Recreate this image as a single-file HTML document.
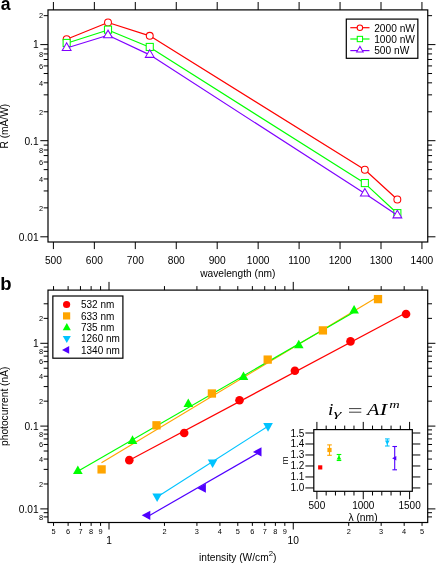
<!DOCTYPE html>
<html><head><meta charset="utf-8"><title>figure</title>
<style>
html,body{margin:0;padding:0;background:#fff;}
svg{display:block;will-change:transform;font-family:"Liberation Sans",sans-serif;}
</style></head><body>
<svg width="436" height="563" viewBox="0 0 436 563">
<rect width="436" height="563" fill="#fff"/>
<rect x="48.0" y="9.9" width="379.75" height="232.1" fill="none" stroke="#000" stroke-width="1.2"/>
<line x1="53.40" y1="9.90" x2="53.40" y2="2.00" stroke="#000" stroke-width="1.0" />
<line x1="53.40" y1="242.00" x2="53.40" y2="249.10" stroke="#000" stroke-width="1.0" />
<text x="53.40" y="264.10" font-size="10.2" text-anchor="middle" >500</text>
<line x1="94.35" y1="9.90" x2="94.35" y2="2.00" stroke="#000" stroke-width="1.0" />
<line x1="94.35" y1="242.00" x2="94.35" y2="249.10" stroke="#000" stroke-width="1.0" />
<text x="94.35" y="264.10" font-size="10.2" text-anchor="middle" >600</text>
<line x1="135.30" y1="9.90" x2="135.30" y2="2.00" stroke="#000" stroke-width="1.0" />
<line x1="135.30" y1="242.00" x2="135.30" y2="249.10" stroke="#000" stroke-width="1.0" />
<text x="135.30" y="264.10" font-size="10.2" text-anchor="middle" >700</text>
<line x1="176.25" y1="9.90" x2="176.25" y2="2.00" stroke="#000" stroke-width="1.0" />
<line x1="176.25" y1="242.00" x2="176.25" y2="249.10" stroke="#000" stroke-width="1.0" />
<text x="176.25" y="264.10" font-size="10.2" text-anchor="middle" >800</text>
<line x1="217.20" y1="9.90" x2="217.20" y2="2.00" stroke="#000" stroke-width="1.0" />
<line x1="217.20" y1="242.00" x2="217.20" y2="249.10" stroke="#000" stroke-width="1.0" />
<text x="217.20" y="264.10" font-size="10.2" text-anchor="middle" >900</text>
<line x1="258.15" y1="9.90" x2="258.15" y2="2.00" stroke="#000" stroke-width="1.0" />
<line x1="258.15" y1="242.00" x2="258.15" y2="249.10" stroke="#000" stroke-width="1.0" />
<text x="258.15" y="264.10" font-size="10.2" text-anchor="middle" >1000</text>
<line x1="299.10" y1="9.90" x2="299.10" y2="2.00" stroke="#000" stroke-width="1.0" />
<line x1="299.10" y1="242.00" x2="299.10" y2="249.10" stroke="#000" stroke-width="1.0" />
<text x="299.10" y="264.10" font-size="10.2" text-anchor="middle" >1100</text>
<line x1="340.05" y1="9.90" x2="340.05" y2="2.00" stroke="#000" stroke-width="1.0" />
<line x1="340.05" y1="242.00" x2="340.05" y2="249.10" stroke="#000" stroke-width="1.0" />
<text x="340.05" y="264.10" font-size="10.2" text-anchor="middle" >1200</text>
<line x1="381.00" y1="9.90" x2="381.00" y2="2.00" stroke="#000" stroke-width="1.0" />
<line x1="381.00" y1="242.00" x2="381.00" y2="249.10" stroke="#000" stroke-width="1.0" />
<text x="381.00" y="264.10" font-size="10.2" text-anchor="middle" >1300</text>
<line x1="421.95" y1="9.90" x2="421.95" y2="2.00" stroke="#000" stroke-width="1.0" />
<line x1="421.95" y1="242.00" x2="421.95" y2="249.10" stroke="#000" stroke-width="1.0" />
<text x="421.95" y="264.10" font-size="10.2" text-anchor="middle" >1400</text>
<line x1="48.00" y1="44.60" x2="40.30" y2="44.60" stroke="#000" stroke-width="1.0" />
<line x1="427.75" y1="44.60" x2="435.45" y2="44.60" stroke="#000" stroke-width="1.0" />
<text x="38.60" y="48.40" font-size="10.2" text-anchor="end" >1</text>
<line x1="48.00" y1="15.67" x2="43.70" y2="15.67" stroke="#000" stroke-width="1.0" />
<line x1="427.75" y1="15.67" x2="432.05" y2="15.67" stroke="#000" stroke-width="1.0" />
<text x="43.20" y="18.47" font-size="7.4" text-anchor="end" >2</text>
<line x1="48.00" y1="140.70" x2="40.30" y2="140.70" stroke="#000" stroke-width="1.0" />
<line x1="427.75" y1="140.70" x2="435.45" y2="140.70" stroke="#000" stroke-width="1.0" />
<text x="38.60" y="144.50" font-size="10.2" text-anchor="end" >0.1</text>
<line x1="48.00" y1="111.77" x2="43.70" y2="111.77" stroke="#000" stroke-width="1.0" />
<line x1="427.75" y1="111.77" x2="432.05" y2="111.77" stroke="#000" stroke-width="1.0" />
<text x="43.20" y="114.57" font-size="7.4" text-anchor="end" >2</text>
<line x1="48.00" y1="94.85" x2="43.70" y2="94.85" stroke="#000" stroke-width="1.0" />
<line x1="427.75" y1="94.85" x2="432.05" y2="94.85" stroke="#000" stroke-width="1.0" />
<line x1="48.00" y1="82.84" x2="43.70" y2="82.84" stroke="#000" stroke-width="1.0" />
<line x1="427.75" y1="82.84" x2="432.05" y2="82.84" stroke="#000" stroke-width="1.0" />
<text x="43.20" y="85.64" font-size="7.4" text-anchor="end" >4</text>
<line x1="48.00" y1="73.53" x2="43.70" y2="73.53" stroke="#000" stroke-width="1.0" />
<line x1="427.75" y1="73.53" x2="432.05" y2="73.53" stroke="#000" stroke-width="1.0" />
<line x1="48.00" y1="65.92" x2="43.70" y2="65.92" stroke="#000" stroke-width="1.0" />
<line x1="427.75" y1="65.92" x2="432.05" y2="65.92" stroke="#000" stroke-width="1.0" />
<text x="43.20" y="68.72" font-size="7.4" text-anchor="end" >6</text>
<line x1="48.00" y1="59.49" x2="43.70" y2="59.49" stroke="#000" stroke-width="1.0" />
<line x1="427.75" y1="59.49" x2="432.05" y2="59.49" stroke="#000" stroke-width="1.0" />
<line x1="48.00" y1="53.91" x2="43.70" y2="53.91" stroke="#000" stroke-width="1.0" />
<line x1="427.75" y1="53.91" x2="432.05" y2="53.91" stroke="#000" stroke-width="1.0" />
<text x="43.20" y="56.71" font-size="7.4" text-anchor="end" >8</text>
<line x1="48.00" y1="49.00" x2="43.70" y2="49.00" stroke="#000" stroke-width="1.0" />
<line x1="427.75" y1="49.00" x2="432.05" y2="49.00" stroke="#000" stroke-width="1.0" />
<line x1="48.00" y1="236.80" x2="40.30" y2="236.80" stroke="#000" stroke-width="1.0" />
<line x1="427.75" y1="236.80" x2="435.45" y2="236.80" stroke="#000" stroke-width="1.0" />
<text x="38.60" y="240.60" font-size="10.2" text-anchor="end" >0.01</text>
<line x1="48.00" y1="207.87" x2="43.70" y2="207.87" stroke="#000" stroke-width="1.0" />
<line x1="427.75" y1="207.87" x2="432.05" y2="207.87" stroke="#000" stroke-width="1.0" />
<text x="43.20" y="210.67" font-size="7.4" text-anchor="end" >2</text>
<line x1="48.00" y1="190.95" x2="43.70" y2="190.95" stroke="#000" stroke-width="1.0" />
<line x1="427.75" y1="190.95" x2="432.05" y2="190.95" stroke="#000" stroke-width="1.0" />
<line x1="48.00" y1="178.94" x2="43.70" y2="178.94" stroke="#000" stroke-width="1.0" />
<line x1="427.75" y1="178.94" x2="432.05" y2="178.94" stroke="#000" stroke-width="1.0" />
<text x="43.20" y="181.74" font-size="7.4" text-anchor="end" >4</text>
<line x1="48.00" y1="169.63" x2="43.70" y2="169.63" stroke="#000" stroke-width="1.0" />
<line x1="427.75" y1="169.63" x2="432.05" y2="169.63" stroke="#000" stroke-width="1.0" />
<line x1="48.00" y1="162.02" x2="43.70" y2="162.02" stroke="#000" stroke-width="1.0" />
<line x1="427.75" y1="162.02" x2="432.05" y2="162.02" stroke="#000" stroke-width="1.0" />
<text x="43.20" y="164.82" font-size="7.4" text-anchor="end" >6</text>
<line x1="48.00" y1="155.59" x2="43.70" y2="155.59" stroke="#000" stroke-width="1.0" />
<line x1="427.75" y1="155.59" x2="432.05" y2="155.59" stroke="#000" stroke-width="1.0" />
<line x1="48.00" y1="150.01" x2="43.70" y2="150.01" stroke="#000" stroke-width="1.0" />
<line x1="427.75" y1="150.01" x2="432.05" y2="150.01" stroke="#000" stroke-width="1.0" />
<text x="43.20" y="152.81" font-size="7.4" text-anchor="end" >8</text>
<line x1="48.00" y1="145.10" x2="43.70" y2="145.10" stroke="#000" stroke-width="1.0" />
<line x1="427.75" y1="145.10" x2="432.05" y2="145.10" stroke="#000" stroke-width="1.0" />
<text x="0.00" y="0.00" font-size="10.2" text-anchor="middle" transform="translate(7.8,126.2) rotate(-90)">R (mA/W)</text>
<text x="237.80" y="276.60" font-size="10.2" text-anchor="middle" >wavelength (nm)</text>
<polyline points="66.65,39.25 108.00,22.45 149.75,35.85 364.85,169.75 397.35,199.45" fill="none" stroke="#ff0000" stroke-width="1.18" stroke-linejoin="round"/>
<circle cx="66.65" cy="39.25" r="3.45" fill="#fff" stroke="#ff0000" stroke-width="1.05"/>
<circle cx="108.00" cy="22.45" r="3.45" fill="#fff" stroke="#ff0000" stroke-width="1.05"/>
<circle cx="149.75" cy="35.85" r="3.45" fill="#fff" stroke="#ff0000" stroke-width="1.05"/>
<circle cx="364.85" cy="169.75" r="3.45" fill="#fff" stroke="#ff0000" stroke-width="1.05"/>
<circle cx="397.35" cy="199.45" r="3.45" fill="#fff" stroke="#ff0000" stroke-width="1.05"/>
<polyline points="66.65,43.25 108.00,29.95 149.75,47.25 364.85,183.35 397.35,213.45" fill="none" stroke="#00ff00" stroke-width="1.18" stroke-linejoin="round"/>
<rect x="63.10" y="39.40" width="7.1" height="7.1" fill="#fff" stroke="#00ff00" stroke-width="1.05"/>
<rect x="104.45" y="26.10" width="7.1" height="7.1" fill="#fff" stroke="#00ff00" stroke-width="1.05"/>
<rect x="146.20" y="43.40" width="7.1" height="7.1" fill="#fff" stroke="#00ff00" stroke-width="1.05"/>
<rect x="361.30" y="179.50" width="7.1" height="7.1" fill="#fff" stroke="#00ff00" stroke-width="1.05"/>
<rect x="393.80" y="209.60" width="7.1" height="7.1" fill="#fff" stroke="#00ff00" stroke-width="1.05"/>
<polyline points="66.65,47.95 108.00,35.25 149.75,54.85 364.85,193.55 397.35,215.35" fill="none" stroke="#8000ff" stroke-width="1.18" stroke-linejoin="round"/>
<polygon points="66.65,42.85 62.25,50.45 71.05,50.45" fill="#fff" stroke="#8000ff" stroke-width="1.05" stroke-linejoin="miter"/>
<polygon points="108.00,30.15 103.60,37.75 112.40,37.75" fill="#fff" stroke="#8000ff" stroke-width="1.05" stroke-linejoin="miter"/>
<polygon points="149.75,49.75 145.35,57.35 154.15,57.35" fill="#fff" stroke="#8000ff" stroke-width="1.05" stroke-linejoin="miter"/>
<polygon points="364.85,188.45 360.45,196.05 369.25,196.05" fill="#fff" stroke="#8000ff" stroke-width="1.05" stroke-linejoin="miter"/>
<polygon points="397.35,210.25 392.95,217.85 401.75,217.85" fill="#fff" stroke="#8000ff" stroke-width="1.05" stroke-linejoin="miter"/>
<rect x="346.3" y="19.1" width="71.55000000000001" height="39.199999999999996" fill="#fff" stroke="#000" stroke-width="1.2"/>
<line x1="350.30" y1="27.70" x2="369.50" y2="27.70" stroke="#ff0000" stroke-width="1.18" />
<circle cx="359.90" cy="27.70" r="2.75" fill="#fff" stroke="#ff0000" stroke-width="1.05"/>
<line x1="350.30" y1="39.00" x2="369.50" y2="39.00" stroke="#00ff00" stroke-width="1.18" />
<rect x="357.25" y="36.35" width="5.3" height="5.3" fill="#fff" stroke="#00ff00" stroke-width="1.05"/>
<line x1="350.30" y1="50.60" x2="369.50" y2="50.60" stroke="#8000ff" stroke-width="1.18" />
<polygon points="359.90,46.40 356.60,52.05 363.20,52.05" fill="#fff" stroke="#8000ff" stroke-width="1.05" stroke-linejoin="miter"/>
<text x="374.20" y="31.60" font-size="10.2" text-anchor="start" >2000 nW</text>
<text x="374.20" y="42.90" font-size="10.2" text-anchor="start" >1000 nW</text>
<text x="374.20" y="54.20" font-size="10.2" text-anchor="start" >500 nW</text>
<text x="0.8" y="9.8" font-size="17.6" font-weight="bold">a</text>
<text x="0" y="0" font-size="17.6" font-weight="bold" transform="translate(0.3,289.6) scale(1.05,1)">b</text>
<rect x="48.0" y="290.1" width="379.7" height="232.39999999999998" fill="none" stroke="#000" stroke-width="1.2"/>
<line x1="48.00" y1="343.30" x2="40.30" y2="343.30" stroke="#000" stroke-width="1.0" />
<line x1="427.70" y1="343.30" x2="435.40" y2="343.30" stroke="#000" stroke-width="1.0" />
<text x="38.60" y="346.95" font-size="10.2" text-anchor="end" >1</text>
<line x1="48.00" y1="318.37" x2="43.70" y2="318.37" stroke="#000" stroke-width="1.0" />
<line x1="427.70" y1="318.37" x2="432.00" y2="318.37" stroke="#000" stroke-width="1.0" />
<text x="43.20" y="320.97" font-size="7.4" text-anchor="end" >2</text>
<line x1="48.00" y1="303.79" x2="43.70" y2="303.79" stroke="#000" stroke-width="1.0" />
<line x1="427.70" y1="303.79" x2="432.00" y2="303.79" stroke="#000" stroke-width="1.0" />
<line x1="48.00" y1="426.10" x2="40.30" y2="426.10" stroke="#000" stroke-width="1.0" />
<line x1="427.70" y1="426.10" x2="435.40" y2="426.10" stroke="#000" stroke-width="1.0" />
<text x="38.60" y="429.75" font-size="10.2" text-anchor="end" >0.1</text>
<line x1="48.00" y1="401.17" x2="43.70" y2="401.17" stroke="#000" stroke-width="1.0" />
<line x1="427.70" y1="401.17" x2="432.00" y2="401.17" stroke="#000" stroke-width="1.0" />
<text x="43.20" y="403.77" font-size="7.4" text-anchor="end" >2</text>
<line x1="48.00" y1="386.59" x2="43.70" y2="386.59" stroke="#000" stroke-width="1.0" />
<line x1="427.70" y1="386.59" x2="432.00" y2="386.59" stroke="#000" stroke-width="1.0" />
<line x1="48.00" y1="376.25" x2="43.70" y2="376.25" stroke="#000" stroke-width="1.0" />
<line x1="427.70" y1="376.25" x2="432.00" y2="376.25" stroke="#000" stroke-width="1.0" />
<text x="43.20" y="378.85" font-size="7.4" text-anchor="end" >4</text>
<line x1="48.00" y1="368.23" x2="43.70" y2="368.23" stroke="#000" stroke-width="1.0" />
<line x1="427.70" y1="368.23" x2="432.00" y2="368.23" stroke="#000" stroke-width="1.0" />
<line x1="48.00" y1="361.67" x2="43.70" y2="361.67" stroke="#000" stroke-width="1.0" />
<line x1="427.70" y1="361.67" x2="432.00" y2="361.67" stroke="#000" stroke-width="1.0" />
<text x="43.20" y="364.27" font-size="7.4" text-anchor="end" >6</text>
<line x1="48.00" y1="356.13" x2="43.70" y2="356.13" stroke="#000" stroke-width="1.0" />
<line x1="427.70" y1="356.13" x2="432.00" y2="356.13" stroke="#000" stroke-width="1.0" />
<line x1="48.00" y1="351.32" x2="43.70" y2="351.32" stroke="#000" stroke-width="1.0" />
<line x1="427.70" y1="351.32" x2="432.00" y2="351.32" stroke="#000" stroke-width="1.0" />
<text x="43.20" y="353.92" font-size="7.4" text-anchor="end" >8</text>
<line x1="48.00" y1="347.09" x2="43.70" y2="347.09" stroke="#000" stroke-width="1.0" />
<line x1="427.70" y1="347.09" x2="432.00" y2="347.09" stroke="#000" stroke-width="1.0" />
<line x1="48.00" y1="508.90" x2="40.30" y2="508.90" stroke="#000" stroke-width="1.0" />
<line x1="427.70" y1="508.90" x2="435.40" y2="508.90" stroke="#000" stroke-width="1.0" />
<text x="38.60" y="512.55" font-size="10.2" text-anchor="end" >0.01</text>
<line x1="48.00" y1="483.97" x2="43.70" y2="483.97" stroke="#000" stroke-width="1.0" />
<line x1="427.70" y1="483.97" x2="432.00" y2="483.97" stroke="#000" stroke-width="1.0" />
<text x="43.20" y="486.57" font-size="7.4" text-anchor="end" >2</text>
<line x1="48.00" y1="469.39" x2="43.70" y2="469.39" stroke="#000" stroke-width="1.0" />
<line x1="427.70" y1="469.39" x2="432.00" y2="469.39" stroke="#000" stroke-width="1.0" />
<line x1="48.00" y1="459.05" x2="43.70" y2="459.05" stroke="#000" stroke-width="1.0" />
<line x1="427.70" y1="459.05" x2="432.00" y2="459.05" stroke="#000" stroke-width="1.0" />
<text x="43.20" y="461.65" font-size="7.4" text-anchor="end" >4</text>
<line x1="48.00" y1="451.03" x2="43.70" y2="451.03" stroke="#000" stroke-width="1.0" />
<line x1="427.70" y1="451.03" x2="432.00" y2="451.03" stroke="#000" stroke-width="1.0" />
<line x1="48.00" y1="444.47" x2="43.70" y2="444.47" stroke="#000" stroke-width="1.0" />
<line x1="427.70" y1="444.47" x2="432.00" y2="444.47" stroke="#000" stroke-width="1.0" />
<text x="43.20" y="447.07" font-size="7.4" text-anchor="end" >6</text>
<line x1="48.00" y1="438.93" x2="43.70" y2="438.93" stroke="#000" stroke-width="1.0" />
<line x1="427.70" y1="438.93" x2="432.00" y2="438.93" stroke="#000" stroke-width="1.0" />
<line x1="48.00" y1="434.12" x2="43.70" y2="434.12" stroke="#000" stroke-width="1.0" />
<line x1="427.70" y1="434.12" x2="432.00" y2="434.12" stroke="#000" stroke-width="1.0" />
<text x="43.20" y="436.72" font-size="7.4" text-anchor="end" >8</text>
<line x1="48.00" y1="429.89" x2="43.70" y2="429.89" stroke="#000" stroke-width="1.0" />
<line x1="427.70" y1="429.89" x2="432.00" y2="429.89" stroke="#000" stroke-width="1.0" />
<line x1="48.00" y1="516.92" x2="43.70" y2="516.92" stroke="#000" stroke-width="1.0" />
<line x1="427.70" y1="516.92" x2="432.00" y2="516.92" stroke="#000" stroke-width="1.0" />
<text x="43.20" y="519.52" font-size="7.4" text-anchor="end" >8</text>
<line x1="48.00" y1="512.69" x2="43.70" y2="512.69" stroke="#000" stroke-width="1.0" />
<line x1="427.70" y1="512.69" x2="432.00" y2="512.69" stroke="#000" stroke-width="1.0" />
<line x1="53.54" y1="290.10" x2="53.54" y2="286.10" stroke="#000" stroke-width="1.0" />
<line x1="53.54" y1="522.50" x2="53.54" y2="525.90" stroke="#000" stroke-width="1.0" />
<text x="53.54" y="534.40" font-size="7.4" text-anchor="middle" >5</text>
<line x1="68.12" y1="290.10" x2="68.12" y2="286.10" stroke="#000" stroke-width="1.0" />
<line x1="68.12" y1="522.50" x2="68.12" y2="525.90" stroke="#000" stroke-width="1.0" />
<text x="68.12" y="534.40" font-size="7.4" text-anchor="middle" >6</text>
<line x1="80.46" y1="290.10" x2="80.46" y2="286.10" stroke="#000" stroke-width="1.0" />
<line x1="80.46" y1="522.50" x2="80.46" y2="525.90" stroke="#000" stroke-width="1.0" />
<text x="80.46" y="534.40" font-size="7.4" text-anchor="middle" >7</text>
<line x1="91.14" y1="290.10" x2="91.14" y2="286.10" stroke="#000" stroke-width="1.0" />
<line x1="91.14" y1="522.50" x2="91.14" y2="525.90" stroke="#000" stroke-width="1.0" />
<text x="91.14" y="534.40" font-size="7.4" text-anchor="middle" >8</text>
<line x1="100.57" y1="290.10" x2="100.57" y2="286.10" stroke="#000" stroke-width="1.0" />
<line x1="100.57" y1="522.50" x2="100.57" y2="525.90" stroke="#000" stroke-width="1.0" />
<text x="100.57" y="534.40" font-size="7.4" text-anchor="middle" >9</text>
<line x1="109.00" y1="290.10" x2="109.00" y2="281.90" stroke="#000" stroke-width="1.0" />
<line x1="109.00" y1="522.50" x2="109.00" y2="529.50" stroke="#000" stroke-width="1.0" />
<text x="109.00" y="543.90" font-size="10.2" text-anchor="middle" >1</text>
<line x1="164.46" y1="290.10" x2="164.46" y2="286.10" stroke="#000" stroke-width="1.0" />
<line x1="164.46" y1="522.50" x2="164.46" y2="525.90" stroke="#000" stroke-width="1.0" />
<text x="164.46" y="534.40" font-size="7.4" text-anchor="middle" >2</text>
<line x1="196.91" y1="290.10" x2="196.91" y2="286.10" stroke="#000" stroke-width="1.0" />
<line x1="196.91" y1="522.50" x2="196.91" y2="525.90" stroke="#000" stroke-width="1.0" />
<text x="196.91" y="534.40" font-size="7.4" text-anchor="middle" >3</text>
<line x1="219.93" y1="290.10" x2="219.93" y2="286.10" stroke="#000" stroke-width="1.0" />
<line x1="219.93" y1="522.50" x2="219.93" y2="525.90" stroke="#000" stroke-width="1.0" />
<text x="219.93" y="534.40" font-size="7.4" text-anchor="middle" >4</text>
<line x1="237.79" y1="290.10" x2="237.79" y2="286.10" stroke="#000" stroke-width="1.0" />
<line x1="237.79" y1="522.50" x2="237.79" y2="525.90" stroke="#000" stroke-width="1.0" />
<text x="237.79" y="534.40" font-size="7.4" text-anchor="middle" >5</text>
<line x1="252.37" y1="290.10" x2="252.37" y2="286.10" stroke="#000" stroke-width="1.0" />
<line x1="252.37" y1="522.50" x2="252.37" y2="525.90" stroke="#000" stroke-width="1.0" />
<text x="252.37" y="534.40" font-size="7.4" text-anchor="middle" >6</text>
<line x1="264.71" y1="290.10" x2="264.71" y2="286.10" stroke="#000" stroke-width="1.0" />
<line x1="264.71" y1="522.50" x2="264.71" y2="525.90" stroke="#000" stroke-width="1.0" />
<text x="264.71" y="534.40" font-size="7.4" text-anchor="middle" >7</text>
<line x1="275.39" y1="290.10" x2="275.39" y2="286.10" stroke="#000" stroke-width="1.0" />
<line x1="275.39" y1="522.50" x2="275.39" y2="525.90" stroke="#000" stroke-width="1.0" />
<text x="275.39" y="534.40" font-size="7.4" text-anchor="middle" >8</text>
<line x1="284.82" y1="290.10" x2="284.82" y2="286.10" stroke="#000" stroke-width="1.0" />
<line x1="284.82" y1="522.50" x2="284.82" y2="525.90" stroke="#000" stroke-width="1.0" />
<text x="284.82" y="534.40" font-size="7.4" text-anchor="middle" >9</text>
<line x1="293.25" y1="290.10" x2="293.25" y2="281.90" stroke="#000" stroke-width="1.0" />
<line x1="293.25" y1="522.50" x2="293.25" y2="529.50" stroke="#000" stroke-width="1.0" />
<text x="293.25" y="543.90" font-size="10.2" text-anchor="middle" >10</text>
<line x1="348.71" y1="290.10" x2="348.71" y2="286.10" stroke="#000" stroke-width="1.0" />
<line x1="348.71" y1="522.50" x2="348.71" y2="525.90" stroke="#000" stroke-width="1.0" />
<text x="348.71" y="534.40" font-size="7.4" text-anchor="middle" >2</text>
<line x1="381.16" y1="290.10" x2="381.16" y2="286.10" stroke="#000" stroke-width="1.0" />
<line x1="381.16" y1="522.50" x2="381.16" y2="525.90" stroke="#000" stroke-width="1.0" />
<text x="381.16" y="534.40" font-size="7.4" text-anchor="middle" >3</text>
<line x1="404.18" y1="290.10" x2="404.18" y2="286.10" stroke="#000" stroke-width="1.0" />
<line x1="404.18" y1="522.50" x2="404.18" y2="525.90" stroke="#000" stroke-width="1.0" />
<text x="404.18" y="534.40" font-size="7.4" text-anchor="middle" >4</text>
<line x1="422.04" y1="290.10" x2="422.04" y2="286.10" stroke="#000" stroke-width="1.0" />
<line x1="422.04" y1="522.50" x2="422.04" y2="525.90" stroke="#000" stroke-width="1.0" />
<text x="422.04" y="534.40" font-size="7.4" text-anchor="middle" >5</text>
<text x="0.00" y="0.00" font-size="10.2" text-anchor="middle" transform="translate(7.8,406.3) rotate(-90)">photocurrent (nA)</text>
<text x="199" y="560.8" font-size="10.2">intensity (W/cm<tspan dy="-5.0" font-size="7.8">2</tspan><tspan dy="5.0">)</tspan></text>
<line x1="129.30" y1="460.20" x2="406.05" y2="312.80" stroke="#ff0000" stroke-width="1.18" />
<line x1="101.50" y1="462.70" x2="377.80" y2="296.70" stroke="#ffa500" stroke-width="1.18" />
<line x1="77.85" y1="471.20" x2="354.20" y2="312.10" stroke="#00ff00" stroke-width="1.18" />
<line x1="157.15" y1="496.90" x2="268.05" y2="426.20" stroke="#00c3ff" stroke-width="1.18" />
<line x1="146.50" y1="517.20" x2="257.50" y2="453.40" stroke="#5000ff" stroke-width="1.18" />
<circle cx="129.30" cy="460.15" r="4.3" fill="#ff0000"/>
<circle cx="184.20" cy="433.00" r="4.3" fill="#ff0000"/>
<circle cx="239.50" cy="400.20" r="4.3" fill="#ff0000"/>
<circle cx="294.90" cy="370.70" r="4.3" fill="#ff0000"/>
<circle cx="350.50" cy="341.40" r="4.3" fill="#ff0000"/>
<circle cx="406.05" cy="314.00" r="4.3" fill="#ff0000"/>
<rect x="97.45" y="465.25" width="8.299999999999999" height="8.299999999999999" fill="#ffa500"/>
<rect x="152.35" y="421.15" width="8.299999999999999" height="8.299999999999999" fill="#ffa500"/>
<rect x="207.75" y="389.35" width="8.299999999999999" height="8.299999999999999" fill="#ffa500"/>
<rect x="263.55" y="355.45" width="8.299999999999999" height="8.299999999999999" fill="#ffa500"/>
<rect x="318.75" y="326.25" width="8.299999999999999" height="8.299999999999999" fill="#ffa500"/>
<rect x="373.85" y="294.95" width="8.299999999999999" height="8.299999999999999" fill="#ffa500"/>
<polygon points="77.85,465.50 73.03,474.10 82.67,474.10" fill="#00ff00"/>
<polygon points="132.50,435.30 127.68,443.90 137.32,443.90" fill="#00ff00"/>
<polygon points="188.30,398.40 183.48,407.00 193.12,407.00" fill="#00ff00"/>
<polygon points="243.50,371.50 238.68,380.10 248.32,380.10" fill="#00ff00"/>
<polygon points="298.80,339.70 293.98,348.30 303.62,348.30" fill="#00ff00"/>
<polygon points="354.10,305.00 349.28,313.60 358.92,313.60" fill="#00ff00"/>
<polygon points="157.15,502.05 152.33,493.45 161.97,493.45" fill="#00c3ff"/>
<polygon points="212.60,468.10 207.78,459.50 217.42,459.50" fill="#00c3ff"/>
<polygon points="268.05,431.70 263.23,423.10 272.87,423.10" fill="#00c3ff"/>
<polygon points="141.70,515.35 150.30,510.71 150.30,519.99" fill="#5000ff"/>
<polygon points="197.30,488.20 205.90,483.56 205.90,492.84" fill="#5000ff"/>
<polygon points="252.90,451.90 261.50,447.26 261.50,456.54" fill="#5000ff"/>
<rect x="52.85" y="296.0" width="70.05000000000001" height="62.19999999999999" fill="#fff" stroke="#000" stroke-width="1.2"/>
<circle cx="66.60" cy="304.50" r="3.6" fill="#ff0000"/>
<rect x="63.00" y="312.30" width="7.2" height="7.2" fill="#ffa500"/>
<polygon points="66.80,323.00 62.77,330.20 70.83,330.20" fill="#00ff00"/>
<polygon points="66.80,343.10 62.77,335.90 70.83,335.90" fill="#00c3ff"/>
<polygon points="62.00,349.90 69.20,346.01 69.20,353.79" fill="#5000ff"/>
<text x="81.00" y="308.30" font-size="10.0" text-anchor="start" >532 nm</text>
<text x="81.00" y="319.65" font-size="10.0" text-anchor="start" >633 nm</text>
<text x="81.00" y="331.00" font-size="10.0" text-anchor="start" >735 nm</text>
<text x="81.00" y="342.35" font-size="10.0" text-anchor="start" >1260 nm</text>
<text x="81.00" y="353.70" font-size="10.0" text-anchor="start" >1340 nm</text>
<rect x="313.8" y="429.6" width="98.5" height="61.69999999999999" fill="#fff" stroke="#000" stroke-width="1.2"/>
<line x1="316.90" y1="429.60" x2="316.90" y2="421.90" stroke="#000" stroke-width="1.0" />
<line x1="316.90" y1="491.30" x2="316.90" y2="499.20" stroke="#000" stroke-width="1.0" />
<text x="316.90" y="509.20" font-size="10.0" text-anchor="middle" >500</text>
<line x1="326.17" y1="429.60" x2="326.17" y2="425.60" stroke="#000" stroke-width="1.0" />
<line x1="326.17" y1="491.30" x2="326.17" y2="495.50" stroke="#000" stroke-width="1.0" />
<line x1="335.44" y1="429.60" x2="335.44" y2="425.60" stroke="#000" stroke-width="1.0" />
<line x1="335.44" y1="491.30" x2="335.44" y2="495.50" stroke="#000" stroke-width="1.0" />
<line x1="344.71" y1="429.60" x2="344.71" y2="425.60" stroke="#000" stroke-width="1.0" />
<line x1="344.71" y1="491.30" x2="344.71" y2="495.50" stroke="#000" stroke-width="1.0" />
<line x1="353.98" y1="429.60" x2="353.98" y2="425.60" stroke="#000" stroke-width="1.0" />
<line x1="353.98" y1="491.30" x2="353.98" y2="495.50" stroke="#000" stroke-width="1.0" />
<line x1="363.25" y1="429.60" x2="363.25" y2="421.90" stroke="#000" stroke-width="1.0" />
<line x1="363.25" y1="491.30" x2="363.25" y2="499.20" stroke="#000" stroke-width="1.0" />
<text x="363.25" y="509.20" font-size="10.0" text-anchor="middle" >1000</text>
<line x1="372.52" y1="429.60" x2="372.52" y2="425.60" stroke="#000" stroke-width="1.0" />
<line x1="372.52" y1="491.30" x2="372.52" y2="495.50" stroke="#000" stroke-width="1.0" />
<line x1="381.79" y1="429.60" x2="381.79" y2="425.60" stroke="#000" stroke-width="1.0" />
<line x1="381.79" y1="491.30" x2="381.79" y2="495.50" stroke="#000" stroke-width="1.0" />
<line x1="391.06" y1="429.60" x2="391.06" y2="425.60" stroke="#000" stroke-width="1.0" />
<line x1="391.06" y1="491.30" x2="391.06" y2="495.50" stroke="#000" stroke-width="1.0" />
<line x1="400.33" y1="429.60" x2="400.33" y2="425.60" stroke="#000" stroke-width="1.0" />
<line x1="400.33" y1="491.30" x2="400.33" y2="495.50" stroke="#000" stroke-width="1.0" />
<line x1="409.60" y1="429.60" x2="409.60" y2="421.90" stroke="#000" stroke-width="1.0" />
<line x1="409.60" y1="491.30" x2="409.60" y2="499.20" stroke="#000" stroke-width="1.0" />
<text x="409.60" y="509.20" font-size="10.0" text-anchor="middle" >1500</text>
<line x1="313.80" y1="487.95" x2="305.40" y2="487.95" stroke="#000" stroke-width="1.0" />
<line x1="412.30" y1="487.95" x2="420.30" y2="487.95" stroke="#000" stroke-width="1.0" />
<text x="304.30" y="491.45" font-size="10.0" text-anchor="end" >1.0</text>
<line x1="313.80" y1="476.96" x2="305.40" y2="476.96" stroke="#000" stroke-width="1.0" />
<line x1="412.30" y1="476.96" x2="420.30" y2="476.96" stroke="#000" stroke-width="1.0" />
<text x="304.30" y="480.46" font-size="10.0" text-anchor="end" >1.1</text>
<line x1="313.80" y1="465.97" x2="305.40" y2="465.97" stroke="#000" stroke-width="1.0" />
<line x1="412.30" y1="465.97" x2="420.30" y2="465.97" stroke="#000" stroke-width="1.0" />
<text x="304.30" y="469.47" font-size="10.0" text-anchor="end" >1.2</text>
<line x1="313.80" y1="454.98" x2="305.40" y2="454.98" stroke="#000" stroke-width="1.0" />
<line x1="412.30" y1="454.98" x2="420.30" y2="454.98" stroke="#000" stroke-width="1.0" />
<text x="304.30" y="458.48" font-size="10.0" text-anchor="end" >1.3</text>
<line x1="313.80" y1="443.99" x2="305.40" y2="443.99" stroke="#000" stroke-width="1.0" />
<line x1="412.30" y1="443.99" x2="420.30" y2="443.99" stroke="#000" stroke-width="1.0" />
<text x="304.30" y="447.49" font-size="10.0" text-anchor="end" >1.4</text>
<line x1="313.80" y1="433.00" x2="305.40" y2="433.00" stroke="#000" stroke-width="1.0" />
<line x1="412.30" y1="433.00" x2="420.30" y2="433.00" stroke="#000" stroke-width="1.0" />
<text x="304.30" y="436.50" font-size="10.0" text-anchor="end" >1.5</text>
<text x="0.00" y="0.00" font-size="9.8" text-anchor="middle" transform="translate(287.5,460.5) rotate(-90)">m</text>
<text x="363.00" y="520.90" font-size="10.3" text-anchor="middle" >λ (nm)</text>
<rect x="318.10" y="465.30" width="4.2" height="4.2" fill="#ff0000"/>
<line x1="329.50" y1="444.90" x2="329.50" y2="455.30" stroke="#ffa500" stroke-width="1.1" />
<line x1="327.20" y1="444.90" x2="331.80" y2="444.90" stroke="#ffa500" stroke-width="1.1" />
<line x1="327.20" y1="455.30" x2="331.80" y2="455.30" stroke="#ffa500" stroke-width="1.1" />
<rect x="327.40" y="447.90" width="4.2" height="4.2" fill="#ffa500"/>
<line x1="339.00" y1="454.50" x2="339.00" y2="460.50" stroke="#00ff00" stroke-width="1.1" />
<line x1="336.70" y1="454.50" x2="341.30" y2="454.50" stroke="#00ff00" stroke-width="1.1" />
<line x1="336.70" y1="460.50" x2="341.30" y2="460.50" stroke="#00ff00" stroke-width="1.1" />
<polygon points="339.00,455.40 336.65,459.60 341.35,459.60" fill="#00ff00"/>
<line x1="387.30" y1="438.90" x2="387.30" y2="446.00" stroke="#00c3ff" stroke-width="1.1" />
<line x1="385.00" y1="438.90" x2="389.60" y2="438.90" stroke="#00c3ff" stroke-width="1.1" />
<line x1="385.00" y1="446.00" x2="389.60" y2="446.00" stroke="#00c3ff" stroke-width="1.1" />
<polygon points="387.30,444.70 384.95,440.50 389.65,440.50" fill="#00c3ff"/>
<line x1="394.70" y1="446.50" x2="394.70" y2="469.80" stroke="#5000ff" stroke-width="1.1" />
<line x1="392.40" y1="446.50" x2="397.00" y2="446.50" stroke="#5000ff" stroke-width="1.1" />
<line x1="392.40" y1="469.80" x2="397.00" y2="469.80" stroke="#5000ff" stroke-width="1.1" />
<polygon points="392.10,458.20 396.30,455.93 396.30,460.47" fill="#5000ff"/>
<text font-family="Liberation Serif, serif" font-style="italic" font-size="17.5" transform="translate(328.0,414.7) scale(1.12,1)">i</text>
<text font-family="Liberation Serif, serif" font-style="italic" font-size="10.0" transform="translate(333.4,417.4) scale(2.0,1)">γ</text>
<line x1="349.00" y1="408.60" x2="361.30" y2="408.60" stroke="#000" stroke-width="0.75" />
<line x1="349.00" y1="412.20" x2="361.30" y2="412.20" stroke="#000" stroke-width="0.75" />
<text font-family="Liberation Serif, serif" font-style="italic" font-size="16.5" transform="translate(367.3,414.7) scale(1.2,1)">A</text>
<text font-family="Liberation Serif, serif" font-style="italic" font-size="16.5" transform="translate(379.7,414.7) scale(1.35,1)">I</text>
<text font-family="Liberation Serif, serif" font-style="italic" font-size="11.3" transform="translate(389.2,408.2) scale(1.28,1)">m</text>
</svg>
</body></html>
